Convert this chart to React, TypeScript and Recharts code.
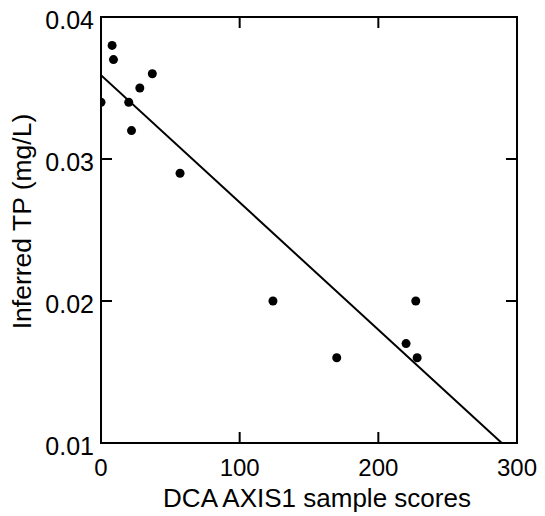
import React from 'react';
import { ComposedChart, Scatter, Line, XAxis, YAxis, Label } from 'recharts';

const scoreX = [0, 8, 9, 20, 22, 28, 37, 57, 124, 170, 220, 227, 228];
const tpY = [0.034, 0.038, 0.037, 0.034, 0.032, 0.035, 0.036, 0.029, 0.02, 0.016, 0.017, 0.02, 0.016];
const fitX = [0, 289];
const fitY = [0.0359, 0.01];
const xTicks = [0, 100, 200, 300];
const yTicks = [0.01, 0.02, 0.03, 0.04];
const xDomain: [number, number] = [0, 300];
const yDomain: [number, number] = [0.01, 0.04];
const xTitle = 'DCA AXIS1 sample scores';
const yTitle = 'Inferred TP (mg/L)';

const points = scoreX.map((x, i) => ({ x, y: tpY[i] }));
const fitLine = fitX.map((x, i) => ({ x, y: fitY[i] }));

const FONT = '"Liberation Sans", Arial, Helvetica, sans-serif';
const TICK_LEN = 11;
const X_MARGIN = 14;
const Y_MARGIN = 7;

const BottomTick = (props: any) => {
  const { x, y, payload } = props;
  const v = payload.value;
  const axisY = y - X_MARGIN;
  const interior = v > xDomain[0] && v < xDomain[1];
  return (
    <g>
      {interior && <line x1={x} x2={x} y1={axisY} y2={axisY - TICK_LEN} stroke="#000" strokeWidth={2} />}
      <text x={x} y={axisY + 33} textAnchor="middle" fontSize={24} fontFamily={FONT} fill="#000">{v}</text>
    </g>
  );
};

const LeftTick = (props: any) => {
  const { x, y, payload } = props;
  const v = payload.value;
  const axisX = x + Y_MARGIN;
  const interior = v > yDomain[0] && v < yDomain[1];
  return (
    <g>
      {interior && <line x1={axisX} x2={axisX + TICK_LEN} y1={y} y2={y} stroke="#000" strokeWidth={2} />}
      <text x={x} y={y + 12} textAnchor="end" fontSize={25} fontFamily={FONT} fill="#000">{v.toFixed(2)}</text>
    </g>
  );
};

const TopTick = (props: any) => {
  const { x, y } = props;
  return <line x1={x} x2={x} y1={y} y2={y + TICK_LEN} stroke="#000" strokeWidth={2} />;
};

const RightTick = (props: any) => {
  const { x, y } = props;
  return <line x1={x} x2={x - TICK_LEN} y1={y} y2={y} stroke="#000" strokeWidth={2} />;
};

const Dot = (props: any) => {
  const { cx, cy } = props;
  return <circle cx={cx} cy={cy} r={4.5} fill="#000" />;
};

const NoDot = () => <g />;

const axisLineStyle = { stroke: '#000', strokeWidth: 2, strokeLinecap: 'square' as const };

export default function App() {
  return (
    <div style={{ position: 'absolute', left: 0, top: 0, background: '#fff' }}>
      <ComposedChart width={545} height={516} margin={{ top: 16, right: 27, left: 0, bottom: 0 }}>
        <XAxis
          xAxisId="b"
          type="number"
          dataKey="x"
          domain={xDomain}
          ticks={xTicks}
          interval={0}
          height={73}
          tickSize={0}
          tickMargin={X_MARGIN}
          tickLine={false}
          axisLine={axisLineStyle}
          tick={<BottomTick />}
          allowDataOverflow
        >
          <Label
            content={(p: any) => {
              const vb = p.viewBox;
              return (
                <text x={vb.x + vb.width / 2 + 8} y={vb.y + 64} textAnchor="middle" fontSize={26} fontFamily={FONT} fill="#000">
                  {xTitle}
                </text>
              );
            }}
          />
        </XAxis>
        <XAxis
          xAxisId="t"
          orientation="top"
          type="number"
          dataKey="x"
          domain={xDomain}
          ticks={[100, 200]}
          interval={0}
          height={1}
          tickSize={0}
          tickMargin={0}
          tickLine={false}
          axisLine={axisLineStyle}
          tick={<TopTick />}
          allowDataOverflow
        />
        <YAxis
          yAxisId="l"
          type="number"
          dataKey="y"
          domain={yDomain}
          ticks={yTicks}
          interval={0}
          width={101}
          tickSize={0}
          tickMargin={Y_MARGIN}
          tickLine={false}
          axisLine={axisLineStyle}
          tick={<LeftTick />}
          allowDataOverflow
        >
          <Label
            content={(p: any) => {
              const vb = p.viewBox;
              const cx = 31;
              const cy = vb.y + vb.height / 2 - 8.5;
              return (
                <text x={cx} y={cy} transform={`rotate(-90, ${cx}, ${cy})`} textAnchor="middle" fontSize={26.5} fontFamily={FONT} fill="#000">
                  {yTitle}
                </text>
              );
            }}
          />
        </YAxis>
        <YAxis
          yAxisId="r"
          orientation="right"
          type="number"
          dataKey="y"
          domain={yDomain}
          ticks={[0.02, 0.03]}
          interval={0}
          width={1}
          tickSize={0}
          tickMargin={0}
          tickLine={false}
          axisLine={axisLineStyle}
          tick={<RightTick />}
          allowDataOverflow
        />
        <Scatter xAxisId="t" yAxisId="r" data={points} dataKey="y" shape={<NoDot />} isAnimationActive={false} />
        <Line
          xAxisId="b"
          yAxisId="l"
          data={fitLine}
          dataKey="y"
          stroke="#000"
          strokeWidth={2}
          dot={false}
          activeDot={false}
          isAnimationActive={false}
          type="linear"
        />
        <Scatter xAxisId="b" yAxisId="l" data={points} dataKey="y" shape={<Dot />} isAnimationActive={false} />
      </ComposedChart>
    </div>
  );
}
